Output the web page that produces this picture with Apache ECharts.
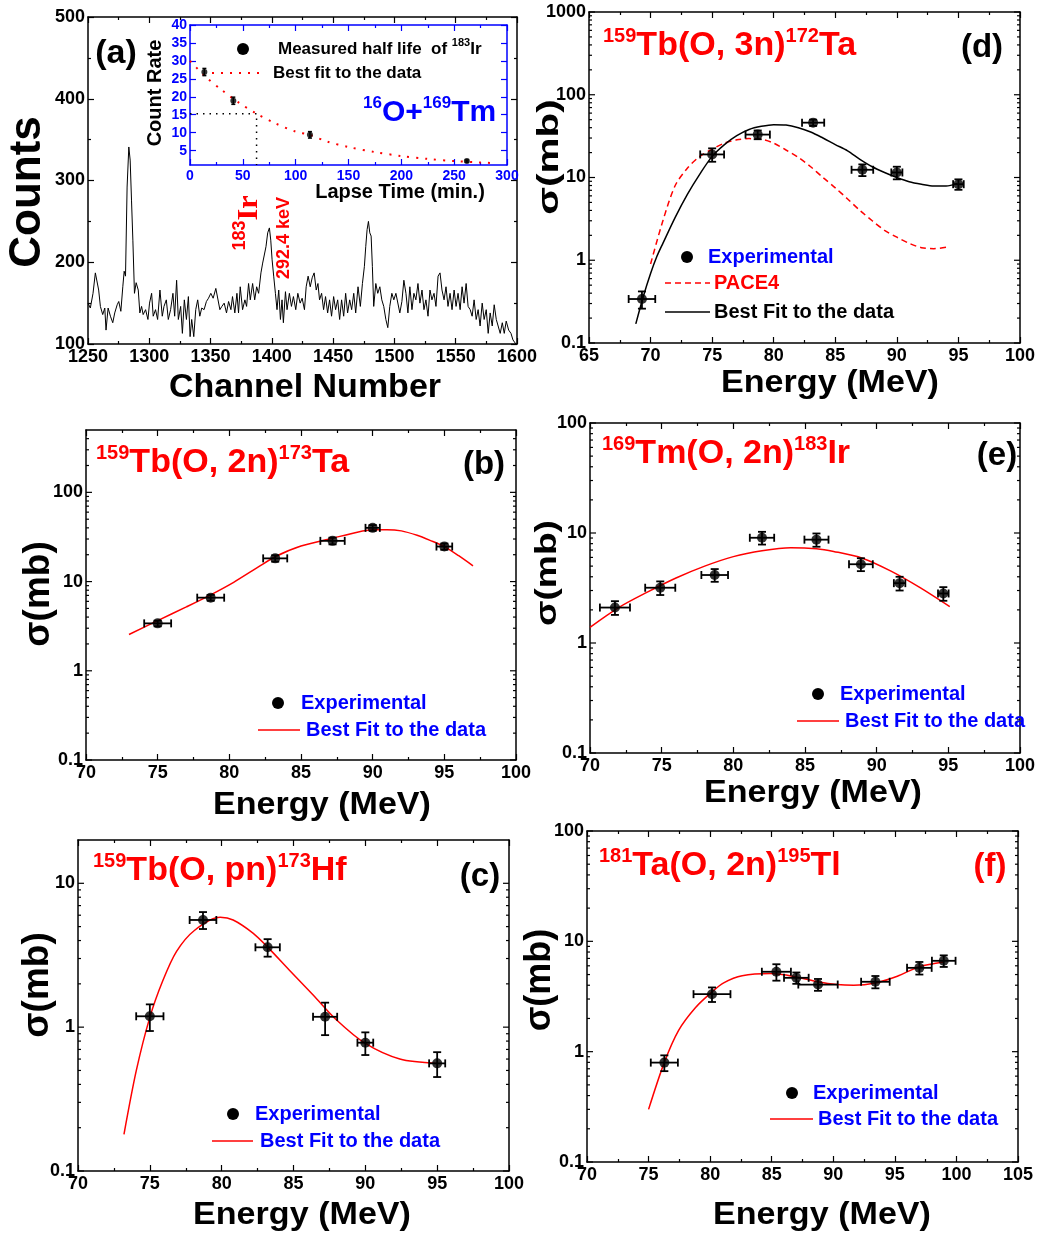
<!DOCTYPE html>
<html>
<head>
<meta charset="utf-8">
<script src="https://cdn.jsdelivr.net/npm/echarts@6/dist/echarts.min.js"></script>
<style>
  html, body { margin: 0; padding: 0; background: #fff; }
  #chart { width: 1039px; height: 1234px; }
</style>
</head>
<body>
<div id="chart"></div>
<script>
const FONT = '"Liberation Sans", Arial, sans-serif'
const RED = '#ff0000'
const BLUE = '#0000ff'

// ---- (a) gamma spectrum ----
const specChannel = [
  1250.0,1251.9,1254.1,1256.0,1257.4,1258.7,1260.1,1262.0,1263.7,1264.7,
  1266.4,1268.3,1270.2,1271.8,1273.8,1275.1,1276.8,1278.4,1279.5,1280.6,
  1281.9,1283.3,1284.4,1285.5,1286.6,1287.9,1289.3,1291.0,1292.3,1293.7,
  1295.0,1297.0,1298.9,1300.2,1301.9,1303.2,1305.1,1306.8,1308.7,1310.6,
  1312.0,1313.9,1315.5,1317.4,1319.3,1320.7,1322.3,1323.7,1325.6,1327.0,
  1328.6,1330.3,1331.9,1333.3,1334.6,1336.3,1337.9,1339.5,1341.2,1342.8,
  1344.7,1346.6,1348.3,1350.2,1352.1,1354.3,1355.9,1357.6,1359.2,1361.1,
  1363.0,1364.7,1366.6,1367.9,1369.8,1371.5,1372.8,1374.2,1376.1,1378.0,
  1379.4,1381.0,1382.4,1384.3,1386.0,1387.6,1389.2,1391.1,1392.5,1393.9,
  1395.2,1396.6,1398.0,1399.1,1400.2,1401.5,1402.9,1404.2,1405.6,1407.0,
  1408.3,1409.4,1411.1,1412.4,1414.3,1416.0,1417.6,1419.5,1421.2,1423.1,
  1424.7,1426.6,1428.0,1429.6,1431.3,1432.9,1434.5,1436.2,1437.6,1438.9,
  1440.6,1442.2,1443.8,1445.5,1447.1,1448.7,1450.4,1452.0,1453.7,1455.3,
  1456.9,1458.6,1460.2,1461.8,1463.5,1465.1,1466.8,1468.4,1470.3,1472.2,
  1473.9,1475.5,1476.6,1477.7,1478.8,1479.9,1481.0,1482.0,1483.1,1484.8,
  1486.4,1488.1,1489.7,1491.3,1493.0,1494.6,1496.2,1497.9,1499.5,1501.2,
  1502.8,1504.4,1506.1,1507.7,1509.4,1511.0,1512.6,1514.3,1515.9,1517.5,
  1519.2,1520.8,1522.5,1524.1,1525.7,1527.4,1529.0,1530.6,1532.3,1533.9,
  1535.6,1537.2,1538.8,1540.5,1542.1,1543.7,1545.4,1547.0,1548.7,1550.3,
  1551.9,1553.6,1555.2,1556.8,1558.5,1560.1,1561.8,1563.4,1565.0,1566.7,
  1568.3,1569.9,1571.6,1573.2,1574.9,1576.5,1578.1,1579.8,1581.4,1583.1,
  1584.7,1586.3,1588.0,1589.6,1591.2,1593.2,1595.1,1596.7,1598.6,1600.0
]
const specCounts = [
  150,144,162,187,189,166,146,136,144,117,
  144,134,126,138,148,152,140,170,189,183,
  292,341,325,276,227,162,175,166,138,146,
  136,142,130,150,162,134,142,130,166,134,
  146,154,130,142,162,134,178,130,146,113,
  154,130,158,109,130,109,142,154,134,144,
  142,152,156,162,156,168,166,142,146,150,
  138,152,142,158,138,162,138,170,142,154,
  146,174,154,174,154,170,162,187,199,199,
  219,236,242,227,203,183,162,142,166,130,
  154,126,164,142,162,146,158,142,162,150,
  156,142,170,183,170,181,187,166,174,154,
  162,142,158,138,154,134,158,142,154,130,
  154,134,162,138,154,142,162,138,170,146,
  174,195,219,240,250,236,232,195,146,174,
  162,170,154,146,130,120,146,162,154,162,
  162,138,152,178,162,138,170,142,162,154,
  174,150,166,142,154,134,166,154,162,146,
  183,187,166,154,170,146,162,142,166,146,
  162,142,170,150,174,146,142,134,154,130,
  142,122,150,130,142,113,138,122,148,130,
  130,113,126,113,128,117,113,105,101,97
]

// ---- (a) inset: decay of 183Ir ----
const decayTime = [13.6, 41, 113.5, 262]
const decayRate = [26.9, 18.9, 9.4, 2.1]
const decayErr = [1.0, 1.0, 0.9, 0.3]
const decayFitTime = [0, 15, 30, 45, 63, 80, 100, 113, 130, 150, 175, 200, 225, 250, 275, 290]
const decayFitRate = [30, 25.5, 21.9, 18.6, 15.3, 12.7, 10.3, 9.4, 7.5, 6.0, 4.6, 3.5, 2.7, 2.1, 1.7, 1.5]
const halfLifeTime = 63
const halfLifeRate = 15.3

// ---- (b) 159Tb(O,2n)173Ta ----
const bE = [75.0, 78.7, 83.2, 87.2, 90.0, 95.0]
const bS = [3.4, 6.6, 18.2, 28.6, 40, 24.7]
const bEerr = [0.94, 0.94, 0.84, 0.85, 0.5, 0.55]
const bSerr = [0.25, 0.5, 1.5, 2.5, 3, 2]
const bFitE = [73, 75, 77, 78.7, 80.3, 82, 83.2, 85, 87.2, 89, 90, 91, 92, 93.1, 94, 95, 96, 97]
const bFitS = [2.55, 3.65, 5.2, 7.1, 9.8, 14.5, 19, 25, 30.6, 36, 38, 38.2, 37, 33, 29, 24.7, 19.5, 15]

// ---- (c) 159Tb(O,pn)173Hf ----
const cE = [75.0, 78.7, 83.2, 87.2, 90.0, 95.0]
const cS = [1.19, 5.56, 3.59, 1.18, 0.78, 0.56]
const cEerr = [0.95, 0.93, 0.85, 0.84, 0.55, 0.56]
const cSerr = [0.25, 0.75, 0.5, 0.3, 0.14, 0.11]
const cFitE = [73.2, 74.06, 75, 75.9, 76.85, 78.1, 79.9, 80.8, 82.2, 83.2, 84.7, 86.4, 88, 90, 92.4, 95]
const cFitS = [0.18, 0.5, 1.17, 2.1, 3.35, 4.7, 5.8, 5.56, 4.49, 3.6, 2.5, 1.66, 1.12, 0.77, 0.6, 0.56]

// ---- (d) 159Tb(O,3n)172Ta ----
const dE = [69.3, 75.0, 78.7, 83.2, 87.2, 90.0, 95.0]
const dS = [0.34, 19, 33, 46, 12.4, 11.5, 8.3]
const dEerr = [1.08, 0.97, 0.99, 0.9, 0.88, 0.45, 0.43]
const dSerr = [0.08, 3.5, 4, 4, 2, 2, 1.2]
const dFitE = [68.8, 69.4, 70, 70.5, 71, 72, 73, 74, 75, 76, 77, 78, 79, 80, 81, 82, 83, 84, 85, 86, 87, 88, 89, 90, 91, 92, 93, 94, 94.9]
const dFitS = [0.17, 0.36, 0.69, 1.1, 1.6, 3.3, 6.3, 11, 18, 25, 32, 38, 41.5, 43.5, 43, 40, 35.5, 30, 25, 21, 16.6, 13.5, 11.5, 10, 8.9, 8.3, 7.9, 7.9, 8.5]
const dPaceE = [70, 71, 72, 73, 74, 75, 76, 77, 78, 79, 80, 81, 82, 83, 84, 85, 86, 87, 88, 89, 90, 91, 92, 93, 94.2]
const dPaceS = [0.9, 3, 8, 13, 18, 22, 26, 28.5, 29.5, 29, 26, 21.5, 17.5, 13.5, 10, 7.5, 5.5, 4, 3, 2.3, 1.9, 1.6, 1.42, 1.38, 1.45]

// ---- (e) 169Tm(O,2n)183Ir ----
const eE = [71.74, 74.9, 78.7, 82.0, 85.8, 88.9, 91.6, 94.65]
const eS = [2.1, 3.18, 4.15, 9.05, 8.7, 5.2, 3.5, 2.82]
const eEerr = [1.05, 1.05, 0.93, 0.85, 0.84, 0.83, 0.4, 0.37]
const eSerr = [0.3, 0.45, 0.55, 1.2, 1.2, 0.7, 0.5, 0.4]
const eFitE = [70, 72, 74, 76, 78, 80, 82, 84, 85.8, 87, 89, 91, 93, 95.1]
const eFitS = [1.39, 2.1, 2.9, 3.9, 5.0, 6.1, 6.9, 7.35, 7.2, 6.8, 5.9, 4.5, 3.2, 2.14]

// ---- (f) 181Ta(O,2n)195Tl ----
const fE = [76.28, 80.15, 85.38, 87.0, 88.76, 93.42, 96.99, 98.97]
const fS = [0.796, 3.32, 5.3, 4.67, 4.06, 4.3, 5.75, 6.66]
const fEerr = [1.1, 1.5, 1.18, 1.0, 1.6, 1.16, 1.0, 0.96]
const fSerr = [0.13, 0.5, 0.9, 0.55, 0.5, 0.55, 0.75, 0.8]
const fFitE = [75, 76.28, 77.44, 78.8, 80.15, 81.1, 82.6, 84.9, 87, 88.76, 90.3, 91.66, 93.42, 95.2, 97, 98.97]
const fFitS = [0.3, 0.8, 1.56, 2.5, 3.48, 4.2, 4.87, 5.1, 4.76, 4.3, 4.06, 4.0, 4.2, 4.83, 5.9, 6.5]

const grid = [], xAxis = [], yAxis = [], series = [], graphic = []

function logMajors(lo, hi) {
  return [0.1, 1, 10, 100, 1000].filter(v => v >= lo && v <= hi)
}
function logMinors(lo, hi) {
  const out = []
  for (let d = lo; d < hi; d *= 10) {
    for (let k = 2; k <= 9; k++) {
      const v = +(d * k).toPrecision(3)
      if (v < hi) out.push(v)
    }
  }
  return out
}

// one framed panel: bottom/left axes with labels, top/right mirrors with ticks only
function addPanel(rect, xo, yo, color = '#000', labelSize = 18) {
  const gi = grid.length
  grid.push({ left: rect[0], top: rect[1], width: rect[2], height: rect[3] })
  const line = { show: true, onZero: false, lineStyle: { color, width: 1.5 } }
  const tick = (cv) => {
    const t = { show: true, inside: true, length: 6, lineStyle: { color, width: 1.2 } }
    if (cv) t.customValues = cv
    return t
  }
  const label = (show, margin, cv) => {
    const l = { show, margin, color, fontFamily: FONT, fontWeight: 'bold', fontSize: labelSize, formatter: v => String(v) }
    if (cv) l.customValues = cv
    return l
  }
  const minor = { show: true, splitNumber: 2, length: 3, lineStyle: { color, width: 1.2 } }
  const isLog = yo.type === 'log'
  const yTicks = isLog ? logMajors(yo.min, yo.max) : yo.ticks

  const xi = xAxis.length
  for (const pos of ['bottom', 'top']) {
    xAxis.push({
      gridIndex: gi, type: 'value', position: pos, min: xo.min, max: xo.max, interval: xo.interval,
      axisLine: line, axisTick: tick(), minorTick: minor,
      axisLabel: label(pos === 'bottom', 4), splitLine: { show: false }
    })
  }
  const yi = yAxis.length
  for (const pos of ['left', 'right']) {
    const ax = {
      gridIndex: gi, type: isLog ? 'log' : 'value', position: pos, min: yo.min, max: yo.max,
      axisLine: line, axisTick: isLog ? { show: false } : tick(yTicks),
      axisLabel: label(pos === 'left', 3, yTicks), splitLine: { show: false }
    }
    if (!isLog && yo.interval) { ax.interval = yo.interval; ax.minorTick = minor }
    yAxis.push(ax)
  }
  const ax = { x: xi, y: yi }
  if (isLog) addLogTicks(ax, xo.min, xo.max, yTicks, logMinors(yo.min, yo.max))
  return ax
}

// ticks of a log axis (majors 2..9 minors), on the left and right frame edges
function addLogTicks(ax, xmin, xmax, majors, minors) {
  const data = majors.map(v => [xmin, v, xmax, 6]).concat(minors.map(v => [xmin, v, xmax, 3]))
  series.push({
    type: 'custom', xAxisIndex: ax.x, yAxisIndex: ax.y, silent: true, z: 2, data,
    renderItem(params, api) {
      const a = api.coord([api.value(0), api.value(1)])
      const b = api.coord([api.value(2), api.value(1)])
      const len = api.value(3)
      const style = { stroke: '#000', lineWidth: 1.2 }
      return {
        type: 'group', children: [
          { type: 'line', shape: { x1: a[0], y1: a[1], x2: a[0] + len, y2: a[1] }, style },
          { type: 'line', shape: { x1: b[0] - len, y1: b[1], x2: b[0], y2: b[1] }, style }
        ]
      }
    }
  })
}

function addPoints(ax, xs, ys, size) {
  series.push({
    type: 'scatter', xAxisIndex: ax.x, yAxisIndex: ax.y, symbolSize: size, z: 5,
    itemStyle: { color: '#000' }, data: xs.map((x, i) => [x, ys[i]])
  })
}

function addErrors(ax, xs, ys, xe, ye, cap, width) {
  series.push({
    type: 'custom', xAxisIndex: ax.x, yAxisIndex: ax.y, z: 4,
    data: xs.map((x, i) => [x, ys[i], x - (xe ? xe[i] : 0), x + (xe ? xe[i] : 0), ys[i] - ye[i], ys[i] + ye[i]]),
    encode: { x: [0, 2, 3], y: [1, 4, 5] },
    renderItem(params, api) {
      const l = api.coord([api.value(2), api.value(1)])
      const r = api.coord([api.value(3), api.value(1)])
      const lo = api.coord([api.value(0), api.value(4)])
      const hi = api.coord([api.value(0), api.value(5)])
      const style = { stroke: '#000', lineWidth: width }
      const seg = (x1, y1, x2, y2) => ({ type: 'line', shape: { x1, y1, x2, y2 }, style })
      const kids = [
        seg(lo[0], lo[1], hi[0], hi[1]),
        seg(lo[0] - cap, lo[1], lo[0] + cap, lo[1]),
        seg(hi[0] - cap, hi[1], hi[0] + cap, hi[1])
      ]
      if (xe) {
        kids.push(seg(l[0], l[1], r[0], r[1]))
        kids.push(seg(l[0], l[1] - cap, l[0], l[1] + cap))
        kids.push(seg(r[0], r[1] - cap, r[0], r[1] + cap))
      }
      return { type: 'group', children: kids }
    }
  })
}

function addLine(ax, xs, ys, color, width, type, smooth) {
  series.push({
    type: 'line', xAxisIndex: ax.x, yAxisIndex: ax.y, symbol: 'none', smooth: smooth || false, z: 3,
    lineStyle: { color, width, type: type || 'solid' }, data: xs.map((x, i) => [x, ys[i]])
  })
}

function text(x, y, str, o = {}) {
  const size = o.size || 20
  const align = o.align || 'center'
  const valign = o.valign || 'middle'
  const style = {
    text: str, fill: o.color || '#000',
    font: `bold ${size}px ${o.family || FONT}`,
    fontSize: size, fontWeight: 'bold', fontFamily: o.family || FONT,
    align, verticalAlign: valign, textAlign: align, textVerticalAlign: valign
  }
  if (o.rich) style.rich = o.rich
  graphic.push({ type: 'text', x, y, rotation: o.rot || 0, scaleX: o.sx || 1, z: 10, style })
}

function supRich(color, main, sup, family) {
  return {
    m: { fontSize: main, fontWeight: 'bold', fontFamily: family || FONT, fill: color, lineHeight: main + 6 },
    s: { fontSize: sup, fontWeight: 'bold', fontFamily: FONT, fill: color, lineHeight: sup, verticalAlign: 'top' }
  }
}

function legendDot(cx, cy, r) {
  graphic.push({ type: 'circle', z: 10, shape: { cx, cy, r }, style: { fill: '#000' } })
}
function legendLine(x1, x2, y, color, dash, width) {
  graphic.push({ type: 'line', z: 10, shape: { x1, y1: y, x2, y2: y }, style: { stroke: color, lineWidth: width || 1.5, lineDash: dash || null } })
}

const UP = Math.PI / 2

// ---------- panel (a) ----------
const pA = addPanel([88, 17, 429, 327], { min: 1250, max: 1600, interval: 50 }, { min: 100, max: 500, interval: 100 })
series.push({
  type: 'line', xAxisIndex: pA.x, yAxisIndex: pA.y, symbol: 'none', z: 3,
  lineStyle: { color: '#000', width: 1 }, data: specChannel.map((c, i) => [c, specCounts[i]])
})
text(116, 54, '(a)', { size: 34 })
text(28, 192, 'Counts', { size: 44, rot: UP })
text(305, 388, 'Channel Number', { size: 34 })
text(249, 223, '{s|183}{m|Ir}', { rot: UP, rich: supRich(RED, 30, 18, '"Liberation Serif", serif') })
text(284, 238, '292.4 keV', { size: 18, color: RED, rot: UP })

// inset
const pI = addPanel([190, 25, 317, 140], { min: 0, max: 300, interval: 50 },
  { min: 1, max: 40, ticks: [5, 10, 15, 20, 25, 30, 35, 40] }, BLUE, 14)
addLine(pI, decayFitTime, decayFitRate, RED, 2, [2, 7], 0.3)
series.push({
  type: 'line', xAxisIndex: pI.x, yAxisIndex: pI.y, symbol: 'none', z: 3,
  lineStyle: { color: '#000', width: 1.5, type: [1.5, 5] },
  data: [[0, halfLifeRate], [halfLifeTime, halfLifeRate], [halfLifeTime, 1]]
})
addErrors(pI, decayTime, decayRate, null, decayErr, 2, 1.5)
addPoints(pI, decayTime, decayRate, 6)
text(155, 93, 'Count Rate', { size: 20, rot: UP })
text(400, 192, 'Lapse Time (min.)', { size: 20 })
legendDot(243, 49, 6)
text(278, 49, '{m|Measured half life  of }{s|183}{m|Ir}', { align: 'left', rich: supRich('#000', 17, 11) })
legendLine(212, 262, 73, RED, [2, 7], 2)
text(273, 73, 'Best fit to the data', { size: 17, align: 'left' })
text(363, 95, '{s|16}{m|O+}{s|169}{m|Tm}', { align: 'left', valign: 'top', rich: supRich(BLUE, 30, 17) })

// ---------- panel (d) ----------
const pD = addPanel([589, 12, 431, 331], { min: 65, max: 100, interval: 5 }, { type: 'log', min: 0.1, max: 1000 })
addLine(pD, dPaceE, dPaceS, RED, 1.5, [6, 4], 0.3)
addLine(pD, dFitE, dFitS, '#000', 1.5, 'solid', 0.3)
addErrors(pD, dE, dS, dEerr, dSerr, 4, 1.8)
addPoints(pD, dE, dS, 10)
text(603, 26, '{s|159}{m|Tb(O, 3n)}{s|172}{m|Ta}', { align: 'left', valign: 'top', rich: supRich(RED, 34, 20) })
text(982, 48, '(d)', { size: 33 })
text(550, 157, 'σ(mb)', { size: 30, sx: 1.35, rot: UP })
text(830, 383, 'Energy (MeV)', { size: 31, sx: 1.1 })
legendDot(687, 257, 6)
text(708, 257, 'Experimental', { color: BLUE, align: 'left' })
legendLine(665, 710, 283, RED, [6, 4])
text(714, 283, 'PACE4', { color: RED, align: 'left' })
legendLine(665, 710, 312, '#000')
text(714, 312, 'Best Fit to the data', { align: 'left' })

// ---------- panel (b) ----------
const pB = addPanel([86, 430, 430, 330], { min: 70, max: 100, interval: 5 }, { type: 'log', min: 0.1, max: 500 })
addLine(pB, bFitE, bFitS, RED, 1.5, 'solid', 0.3)
addErrors(pB, bE, bS, bEerr, bSerr, 4, 1.8)
addPoints(pB, bE, bS, 10)
text(96, 443, '{s|159}{m|Tb(O, 2n)}{s|173}{m|Ta}', { align: 'left', valign: 'top', rich: supRich(RED, 34, 20) })
text(484, 465, '(b)', { size: 33 })
text(39, 594, 'σ(mb)', { size: 37, rot: UP })
text(322, 805, 'Energy (MeV)', { size: 31, sx: 1.1 })
legendDot(278, 703, 6)
text(301, 703, 'Experimental', { color: BLUE, align: 'left' })
legendLine(258, 300, 730, RED)
text(306, 730, 'Best Fit to the data', { color: BLUE, align: 'left' })

// ---------- panel (e) ----------
const pE = addPanel([590, 423, 430, 330], { min: 70, max: 100, interval: 5 }, { type: 'log', min: 0.1, max: 100 })
addLine(pE, eFitE, eFitS, RED, 1.5, 'solid', 0.3)
addErrors(pE, eE, eS, eEerr, eSerr, 4, 1.8)
addPoints(pE, eE, eS, 10)
text(602, 434, '{s|169}{m|Tm(O, 2n)}{s|183}{m|Ir}', { align: 'left', valign: 'top', rich: supRich(RED, 34, 20) })
text(997, 456, '(e)', { size: 33 })
text(548, 573, 'σ(mb)', { size: 30, sx: 1.24, rot: UP })
text(813, 793, 'Energy (MeV)', { size: 31, sx: 1.1 })
legendDot(818, 694, 6)
text(840, 694, 'Experimental', { color: BLUE, align: 'left' })
legendLine(797, 839, 721, RED)
text(845, 721, 'Best Fit to the data', { color: BLUE, align: 'left' })

// ---------- panel (c) ----------
const pC = addPanel([78, 840, 431, 331], { min: 70, max: 100, interval: 5 }, { type: 'log', min: 0.1, max: 20 })
addLine(pC, cFitE, cFitS, RED, 1.5, 'solid', 0.3)
addErrors(pC, cE, cS, cEerr, cSerr, 4, 1.8)
addPoints(pC, cE, cS, 10)
text(93, 851, '{s|159}{m|Tb(O, pn)}{s|173}{m|Hf}', { align: 'left', valign: 'top', rich: supRich(RED, 34, 20) })
text(480, 877, '(c)', { size: 33 })
text(38, 985, 'σ(mb)', { size: 37, rot: UP })
text(302, 1215, 'Energy (MeV)', { size: 31, sx: 1.1 })
legendDot(233, 1114, 6)
text(255, 1114, 'Experimental', { color: BLUE, align: 'left' })
legendLine(212, 253, 1141, RED)
text(260, 1141, 'Best Fit to the data', { color: BLUE, align: 'left' })

// ---------- panel (f) ----------
const pF = addPanel([587, 831, 431, 331], { min: 70, max: 105, interval: 5 }, { type: 'log', min: 0.1, max: 100 })
addLine(pF, fFitE, fFitS, RED, 1.5, 'solid', 0.3)
addErrors(pF, fE, fS, fEerr, fSerr, 4, 1.8)
addPoints(pF, fE, fS, 10)
text(599, 846, '{s|181}{m|Ta(O, 2n)}{s|195}{m|Tl}', { align: 'left', valign: 'top', rich: supRich(RED, 34, 20) })
text(990, 867, '(f)', { size: 33, color: RED })
text(540, 980, 'σ(mb)', { size: 36, rot: UP })
text(822, 1215, 'Energy (MeV)', { size: 31, sx: 1.1 })
legendDot(792, 1093, 6)
text(813, 1093, 'Experimental', { color: BLUE, align: 'left' })
legendLine(770, 813, 1119, RED)
text(818, 1119, 'Best Fit to the data', { color: BLUE, align: 'left' })

const chart = echarts.init(document.getElementById('chart'))
chart.setOption({
  animation: false,
  backgroundColor: '#fff',
  grid, xAxis, yAxis, series, graphic
})
</script>
</body>
</html>
